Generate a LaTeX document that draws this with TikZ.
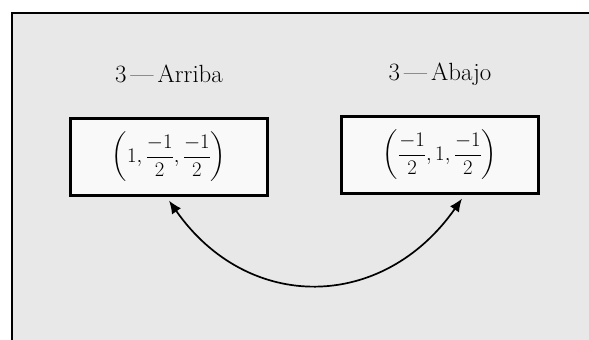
\documentclass[tikz,border=0pt]{standalone}
\usepackage{amsmath}
\usetikzlibrary{positioning,arrows.meta}
\begin{document}
\begin{tikzpicture}[
    x=1pt, y=-1pt,
    caja/.style={draw, line width=2.2pt, fill=gray!5, minimum width=197pt, minimum height=77pt, inner sep=0pt, font=\huge},
    etiqueta/.style={inner sep=0pt, text depth=0pt, font=\Huge},
    flecha/.style={line width=1.7pt, {Latex[length=13pt,width=11pt]}-{Latex[length=13pt,width=11pt]}}
    ]
    \useasboundingbox (0,0) rectangle (589,340);
    \fill[gray!18] (12,13) rectangle (589,340);
    \draw[line width=2.2pt] (589,13) -- (12,13) -- (12,340);
    \node[caja] (arriba) at (169,157) {$\left(1,\dfrac{-1}{2},\dfrac{-1}{2}\right)$};
    \node[caja] (abajo) at (440,155) {$\left(\dfrac{-1}{2},1,\dfrac{-1}{2}\right)$};
    \node[etiqueta, above=35pt of arriba] (tarriba) {3\,---\,Arriba};
    \node[etiqueta, above=35pt of abajo] (tabajo) {3\,---\,Abajo};
    \draw[flecha] ([yshift=-4pt]arriba.south) to[out=-55, in=-125, looseness=1.2] ([xshift=22pt,yshift=-4pt]abajo.south);
\end{tikzpicture}
\end{document}
